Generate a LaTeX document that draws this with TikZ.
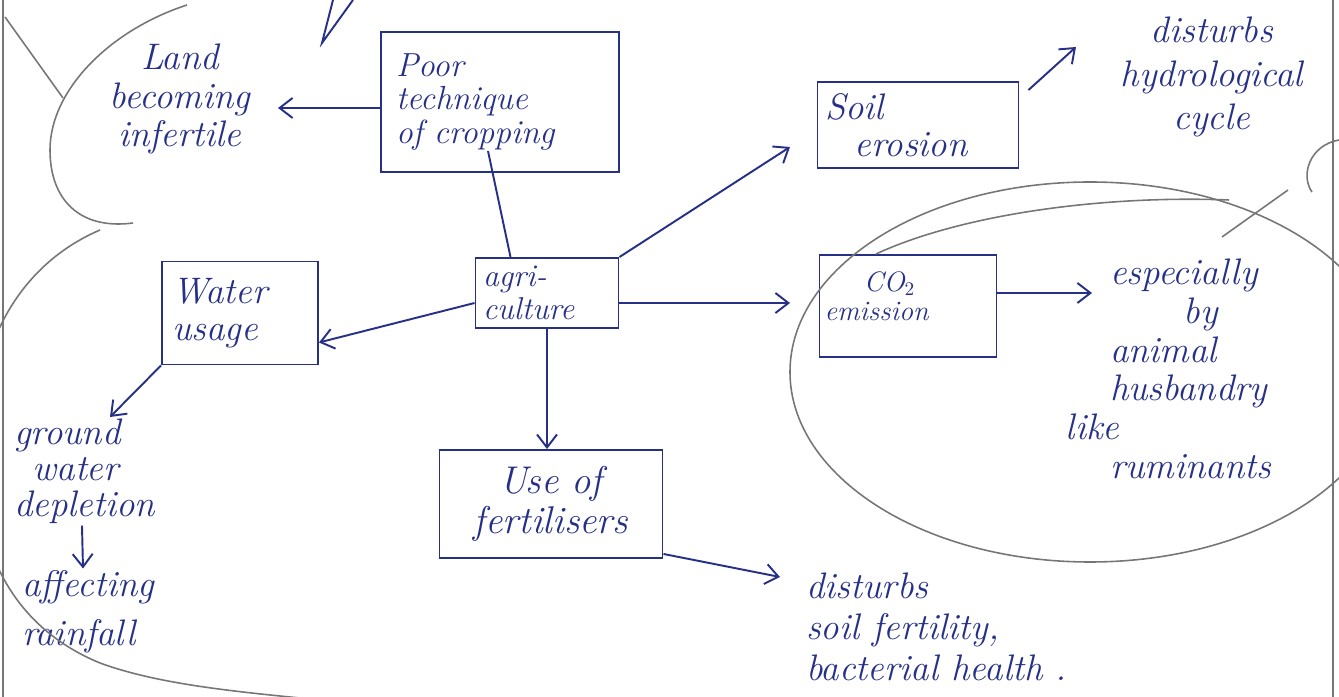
\documentclass[tikz,border=0pt]{standalone}
\usepackage{tikz}
\usetikzlibrary{arrows.meta}
\tikzset{>={Straight Barb[length=2.6mm,width=4mm]}}
\definecolor{ink}{RGB}{38,48,135}
\definecolor{pencil}{RGB}{118,118,118}
\tikzset{
  box/.style={draw=ink, line width=1.1pt, rectangle, text=ink, align=left,
    inner xsep=3mm, inner ysep=2pt, font=\itshape\fontsize{21}{20}\selectfont},
  note/.style={text=ink, align=center, inner sep=1pt, font=\itshape\fontsize{21}{22}\selectfont},
  link/.style={draw=ink, line width=1.1pt},
  pen/.style={draw=pencil, line width=0.9pt}
}

\begin{document}
\begin{tikzpicture}[x=0.2mm, y=-0.2mm]
    \useasboundingbox (0,0) rectangle (1339,697);

    % boxes
    \node[box, minimum width=47.6mm, text width=41.6mm, minimum height=28mm,
      font=\itshape\fontsize{19}{19}\selectfont] (poor) at (500,102) {Poor\\technique\\of cropping};
    \node[box, inner xsep=1.5mm, minimum width=40.2mm, text width=37.2mm, minimum height=17.2mm,
      font=\itshape\fontsize{21}{21}\selectfont] (soil) at (918,125) {Soil\\\hspace{0.8em}erosion};
    \node[box, inner xsep=1.5mm, minimum width=28.6mm, text width=25.6mm, minimum height=14mm,
      font=\itshape\fontsize{18}{19}\selectfont] (agri) at (547,293) {agri-\\culture};
    \node[box, inner xsep=2mm, minimum width=31.2mm, text width=27.2mm, minimum height=20.6mm,
      font=\itshape\fontsize{21}{21}\selectfont] (water) at (240,313) {Water\\usage};
    \node[box, inner xsep=1mm, minimum width=35.4mm, text width=33.4mm, minimum height=20.4mm,
      font=\itshape\fontsize{16}{16.5}\selectfont] (co2) at (908,306) {\hspace{1.4em}CO$_2$\\emission\rule[-4mm]{0pt}{0pt}};
    \node[box, inner xsep=1mm, minimum width=44.6mm, text width=42.6mm, minimum height=21.6mm, align=center,
      font=\itshape\fontsize{22}{23}\selectfont] (fert) at (551,504) {Use of\\fertilisers};

    % notes
    \node[note] (land) at (180,99) {Land\\becoming\\infertile};
    \node[note, font=\itshape\fontsize{21}{25}\selectfont] (hydro) at (1212,77) {disturbs\\hydrological\\cycle};
    \node[note, anchor=west, align=left] (husb) at (1108,369)
      {especially\\\hspace{2em}by\\animal\\husbandry\\\hspace{-1.2em}like\\ruminants};
    \node[note, anchor=west, align=left, font=\itshape\fontsize{21}{20.5}\selectfont] (ground) at (12,471)
      {ground\\\hspace{0.5em}water\\depletion};
    \node[note, anchor=west, align=left, font=\itshape\fontsize{21}{28}\selectfont] (rain) at (20,612)
      {affecting\\rainfall};
    \node[note, anchor=west, align=left, font=\itshape\fontsize{21}{23.5}\selectfont] (dist) at (804,627)
      {disturbs\\soil fertility,\\bacterial health .};

    % arrow tips
    \coordinate (landtip) at (278,108);
    \coordinate (soiltip) at (790,147);
    \coordinate (co2tip) at (790,303);
    \coordinate (husbtip) at (1092,293);
    \coordinate (hydrotip) at (1076,47);
    \coordinate (groundtip) at (110,417);
    \coordinate (disttip) at (780,577);

    % connectors
    \draw[link,->] (poor.west |- landtip) -- (landtip);
    \draw[link] ([xshift=-2.4mm,yshift=4.4mm]poor.south) -- ([xshift=-7.3mm]agri.north);
    \draw[link,->] (agri.north east) -- (soiltip);
    \draw[link,->] (agri.east |- co2tip) -- (co2tip);
    \draw[link,->] ([yshift=-2mm]agri.west) -- ([yshift=-5.9mm]water.east);
    \draw[link,->] (agri.south) -- (agri.south |- fert.north);
    \draw[link,->] (co2.east |- husbtip) -- (husbtip);
    \draw[link,->] ([xshift=1.8mm,yshift=-1.8mm]soil.north east) -- (hydrotip);
    \draw[link,->] (water.south west) -- (groundtip);
    \draw[link,->] ([xshift=14mm]ground.south west) -- ([xshift=12.6mm]rain.north west);
    \draw[link,->] ([yshift=1mm]fert.south east) -- (disttip);

    % top pointer
    \draw[link] (333,0) -- (322,43) -- (353,0);

    % pencil marks
    \draw[pen] (3,0) -- (3,697);
    \draw[pen] (1333,0) -- (1333,697);
    \draw[pen] (5,17) -- (63,98);
    \draw[pen] (187,5) .. controls (110,30) and (50,90) .. (50,150)
      .. controls (50,200) and (80,230) .. (133,223);
    \draw[pen] (100,230) .. controls (30,260) and (-25,330) .. (-25,450)
      .. controls (-25,560) and (20,630) .. (100,663)
      .. controls (160,685) and (240,692) .. (320,700);
    \draw[pen] (1090,372) ellipse [x radius=60mm, y radius=38mm];
    \draw[pen] (876,254) .. controls (960,215) and (1100,195) .. (1229,200);
    \draw[pen] (1288,190) -- (1222,237);
    \draw[pen] (1339,140) .. controls (1310,145) and (1300,175) .. (1312,192);
\end{tikzpicture}
\end{document}
